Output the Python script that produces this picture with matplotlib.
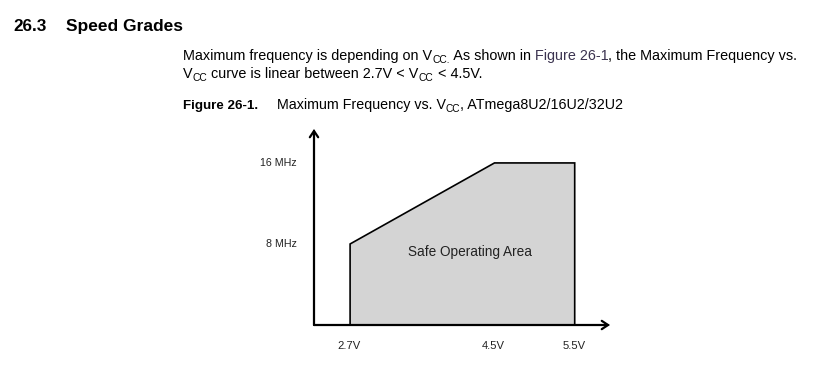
import matplotlib
matplotlib.use('Agg')
import matplotlib.pyplot as plt

plt.rcParams['font.family'] = ['Liberation Sans', 'DejaVu Sans']

# data of the speed-grade curve
vcc = [2.7, 4.5, 5.5]
freq_max = [8, 16, 16]
x_ticks = [2.7, 4.5, 5.5]
x_labels = ['2.7V', '4.5V', '5.5V']
y_ticks = [8, 16]
y_labels = ['8 MHz', '16 MHz']

W, H = 819, 378
fig = plt.figure(figsize=(W / 100, H / 100), dpi=100)
renderer = fig.canvas.get_renderer()


def put_line(x, y, parts):
    # parts: list of (text, size, weight, color, dy); x, y in pixels from top-left
    for s, size, weight, color, dy in parts:
        t = fig.text(x / W, 1 - (y + dy) / H, s, fontsize=size, fontweight=weight,
                     color=color, va='baseline', ha='left')
        bb = t.get_window_extent(renderer)
        x += bb.width
    return x


black = '#000000'
link = '#3b3350'
body = 10.35
sub = 7.4

put_line(13, 31, [('26.3', 12.3, 'bold', black, 0)])
put_line(66, 31, [('Speed Grades', 12.5, 'bold', black, 0)])

put_line(183, 60, [
    ('Maximum frequency is depending on V', body, 'normal', black, 0),
    ('CC.', sub, 'normal', black, 3),
    (' As shown in ', body, 'normal', black, 0),
    ('Figure 26-1', body, 'normal', link, 0),
    (', the Maximum Frequency vs.', body, 'normal', black, 0),
])
put_line(183, 78, [
    ('V', body, 'normal', black, 0),
    ('CC', sub, 'normal', black, 3),
    (' curve is linear between 2.7V < V', body, 'normal', black, 0),
    ('CC', sub, 'normal', black, 3),
    (' < 4.5V.', body, 'normal', black, 0),
])
xx = put_line(183, 109, [('Figure 26-1.', 9.6, 'bold', black, 0)])
put_line(277, 109, [
    ('Maximum Frequency vs. V', 10.3, 'normal', black, 0),
    ('CC', 7.3, 'normal', black, 3),
    (', ATmega8U2/16U2/32U2', 10.3, 'normal', black, 0),
])

# axes placed in pixels: origin (314, 325), arrow tips at x=610 and y=129
ax = fig.add_axes([314 / W, (H - 325) / H, (610 - 314) / W, (325 - 129) / H])
ax.set_xlim(2.25, 5.94)
ax.set_ylim(0, 19.35)
for sp in ax.spines.values():
    sp.set_visible(False)
ax.set_xticks([])
ax.set_yticks([])
ax.patch.set_alpha(0)

poly_x = [vcc[0]] + vcc + [vcc[-1]]
poly_y = [0] + freq_max + [0]
ax.fill(poly_x, poly_y, facecolor='#d4d4d4', edgecolor='none')
ax.plot(poly_x, poly_y, color='black', lw=1.2, solid_joinstyle='miter')

arrow = dict(arrowstyle='->,head_length=0.45,head_width=0.3', lw=1.6, color='black',
             shrinkA=0, shrinkB=0, joinstyle='miter')
ax.annotate('', xy=(5.94, 0), xytext=(2.25, 0), arrowprops=arrow, annotation_clip=False)
ax.annotate('', xy=(2.25, 19.35), xytext=(2.25, 0), arrowprops=arrow, annotation_clip=False)

for v, lab in zip(x_ticks, x_labels):
    ax.annotate(lab, xy=(v, 0), xytext=(-1, -21), textcoords='offset pixels',
                ha='center', va='center', fontsize=8.1, color='#222222',
                annotation_clip=False)
for f, lab in zip(y_ticks, y_labels):
    ax.annotate(lab, xy=(2.25, f), xytext=(-17, 0), textcoords='offset pixels',
                ha='right', va='center', fontsize=7.7, color='#222222',
                annotation_clip=False)

ax.text(4.2, 7.2, 'Safe Operating Area', ha='center', va='center', fontsize=9.8,
        color='#222222')

fig.savefig('out.png', dpi=100)
